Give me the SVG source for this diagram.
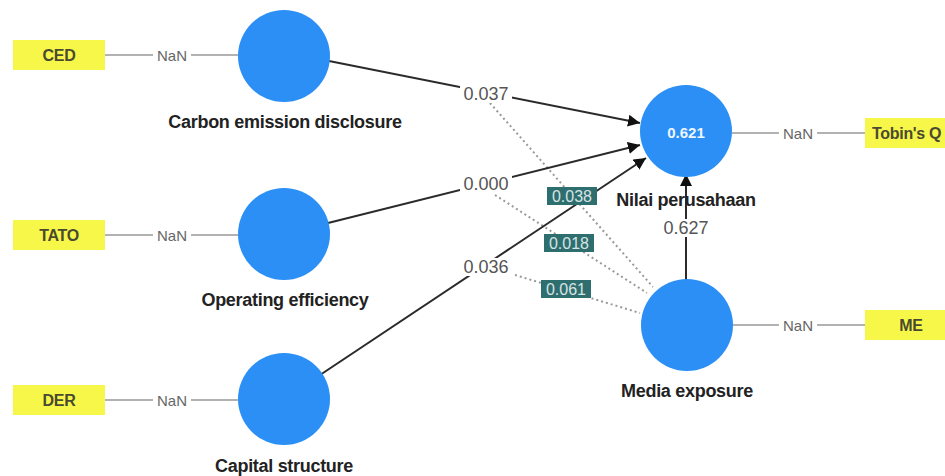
<svg xmlns="http://www.w3.org/2000/svg" width="945" height="476" viewBox="0 0 945 476">
<style>
.ind{fill:#f7f749}
.indt{font-family:"Liberation Sans",Arial,sans-serif;font-size:16px;font-weight:bold;fill:#4a4a30;text-anchor:middle;dominant-baseline:central;letter-spacing:-0.3px}
.lv{fill:#2b8ff5}
.lvl{font-family:"Liberation Sans",Arial,sans-serif;font-size:18px;font-weight:bold;fill:#222;text-anchor:middle;letter-spacing:-0.3px}
.r2{font-family:"Liberation Sans",Arial,sans-serif;font-size:15px;font-weight:bold;fill:#eef6ff;text-anchor:middle;dominant-baseline:central}
.thin{stroke:#666;stroke-width:1.2;fill:none}
.path{stroke:#2a2a2a;stroke-width:2;fill:none}
.dash{stroke:#999;stroke-width:2;stroke-dasharray:2 3;fill:none}
.nan{font-family:"Liberation Sans",Arial,sans-serif;font-size:15px;fill:#666;text-anchor:middle;dominant-baseline:central}
.coef{font-family:"Liberation Sans",Arial,sans-serif;font-size:18px;fill:#555;text-anchor:middle;dominant-baseline:central}
.mod{fill:#2f6e6e}
.modt{font-family:"Liberation Sans",Arial,sans-serif;font-size:16px;fill:#d6e4e4;text-anchor:middle;dominant-baseline:central}
</style>
<defs>
<marker id="ah" viewBox="0 0 10 10" refX="10" refY="5" markerWidth="6" markerHeight="6" orient="auto" markerUnits="strokeWidth">
<path d="M0,0 L10,5 L0,10 z" fill="#111"/>
</marker>
</defs>
<rect width="945" height="476" fill="#fff"/>
<g id="connectors">
<line class="thin" x1="105" y1="55" x2="238" y2="55"/>
<rect x="153" y="47" width="38" height="16" fill="#fff"/><text class="nan" x="172" y="55">NaN</text>
<line class="thin" x1="105" y1="235" x2="238" y2="235"/>
<rect x="153" y="227" width="38" height="16" fill="#fff"/><text class="nan" x="172" y="235">NaN</text>
<line class="thin" x1="105" y1="400" x2="238" y2="400"/>
<rect x="153" y="392" width="38" height="16" fill="#fff"/><text class="nan" x="172" y="400">NaN</text>
<line class="thin" x1="732" y1="133" x2="865" y2="133"/>
<rect x="779" y="125" width="38" height="16" fill="#fff"/><text class="nan" x="798" y="133">NaN</text>
<line class="thin" x1="732" y1="325" x2="865" y2="325"/>
<rect x="779" y="317" width="38" height="16" fill="#fff"/><text class="nan" x="798" y="325">NaN</text>
<line class="dash" x1="490" y1="103" x2="653" y2="287"/>
<line class="dash" x1="495" y1="195" x2="647" y2="293"/>
<line class="dash" x1="515" y1="275" x2="640" y2="313"/>
<line class="path" x1="329" y1="61" x2="640" y2="123" marker-end="url(#ah)"/>
<line class="path" x1="328" y1="223" x2="640" y2="145" marker-end="url(#ah)"/>
<line class="path" x1="320" y1="375" x2="646" y2="158" marker-end="url(#ah)"/>
<line class="path" x1="686" y1="282" x2="686" y2="174" marker-end="url(#ah)"/>
<rect x="460" y="85" width="52" height="18" fill="#fff"/><text class="coef" x="486" y="94">0.037</text>
<rect x="460" y="175" width="52" height="18" fill="#fff"/><text class="coef" x="486" y="184">0.000</text>
<rect x="460" y="258" width="52" height="18" fill="#fff"/><text class="coef" x="486" y="267">0.036</text>
<rect x="661" y="219" width="50" height="18" fill="#fff"/><text class="coef" x="686" y="228">0.627</text>
<rect class="mod" x="547" y="187" width="50" height="18"/><text class="modt" x="572" y="196">0.038</text>
<rect class="mod" x="544" y="234" width="50" height="18"/><text class="modt" x="569" y="243">0.018</text>
<rect class="mod" x="541" y="280" width="50" height="18"/><text class="modt" x="566" y="289">0.061</text>
</g>
<g id="ind-CED"><rect class="ind" x="13" y="40" width="92" height="30"/><text class="indt" x="59" y="55">CED</text></g>
<g id="ind-TATO"><rect class="ind" x="13" y="220" width="92" height="30"/><text class="indt" x="59" y="235">TATO</text></g>
<g id="ind-DER"><rect class="ind" x="13" y="385" width="92" height="30"/><text class="indt" x="59" y="400">DER</text></g>
<g id="ind-TobinsQ"><rect class="ind" x="865" y="118" width="92" height="30"/><text class="indt" x="872" y="133" style="text-anchor:start">Tobin's Q</text></g>
<g id="ind-ME"><rect class="ind" x="865" y="310" width="92" height="30"/><text class="indt" x="911" y="325">ME</text></g>
<g id="lv-CED"><circle class="lv" cx="284" cy="56" r="46"/><text class="lvl" x="285" y="128">Carbon emission disclosure</text></g>
<g id="lv-TATO"><circle class="lv" cx="284" cy="234" r="46"/><text class="lvl" x="285" y="306">Operating efficiency</text></g>
<g id="lv-DER"><circle class="lv" cx="284" cy="399" r="46"/><text class="lvl" x="284" y="472">Capital structure</text></g>
<g id="lv-Nilai"><circle class="lv" cx="686" cy="131" r="46"/><text class="r2" x="686" y="132">0.621</text><text class="lvl" x="686" y="206">Nilai perusahaan</text></g>
<g id="lv-Media"><circle class="lv" cx="687" cy="325" r="46"/><text class="lvl" x="687" y="397">Media exposure</text></g>
</svg>
